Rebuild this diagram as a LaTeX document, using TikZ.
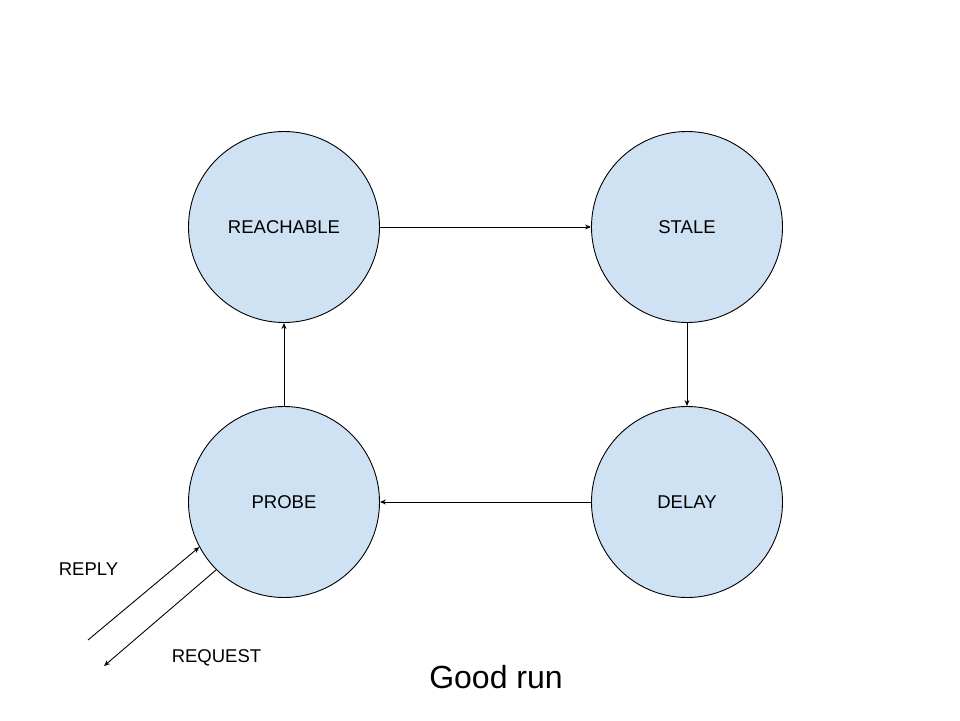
\documentclass[tikz,border=0pt]{standalone}
\usepackage{fontspec}
\setmainfont{Liberation Sans}
\usetikzlibrary{arrows.meta}
\definecolor{statefill}{HTML}{CFE2F3}
\tikzset{
  state/.style={circle, draw=black, line width=0.9pt, fill=statefill, minimum size=191pt, inner sep=0pt, font=\fontsize{18.5}{20}\selectfont},
  conn/.style={draw=black, line width=0.9pt, -{Stealth[length=6pt,width=5pt]}},
  lbl/.style={font=\fontsize{18.5}{20}\selectfont, inner sep=0pt},
}
\begin{document}
\begin{tikzpicture}[x=1pt,y=-1pt]
\useasboundingbox (0,0) rectangle (960,720);
\fill[white] (0,0) rectangle (960,720);
\node[state] (reach) at (284,227) {REACHABLE};
\node[state] (stale) at (687,227) {STALE};
\node[state] (probe) at (284,502) {PROBE};
\node[state] (delay) at (687,502) {DELAY};
\draw[conn] (reach) -- (stale);
\draw[conn] (stale) -- (delay);
\draw[conn] (delay) -- (probe);
\draw[conn] (probe) -- (reach);
\coordinate (replyend) at (88,640);
\coordinate (reqend) at (104,666);
\draw[conn] (replyend) -- (probe.208);
\draw[conn] (probe.225.8) -- (reqend);
\node[lbl] (replylbl) at (88.5,569) {REPLY};
\node[lbl] (reqlbl) at (216.5,658) {REQUEST};
\node[font=\fontsize{32}{36}\selectfont, inner sep=0pt] (title) at (496,677) {Good run};
\end{tikzpicture}
\end{document}
